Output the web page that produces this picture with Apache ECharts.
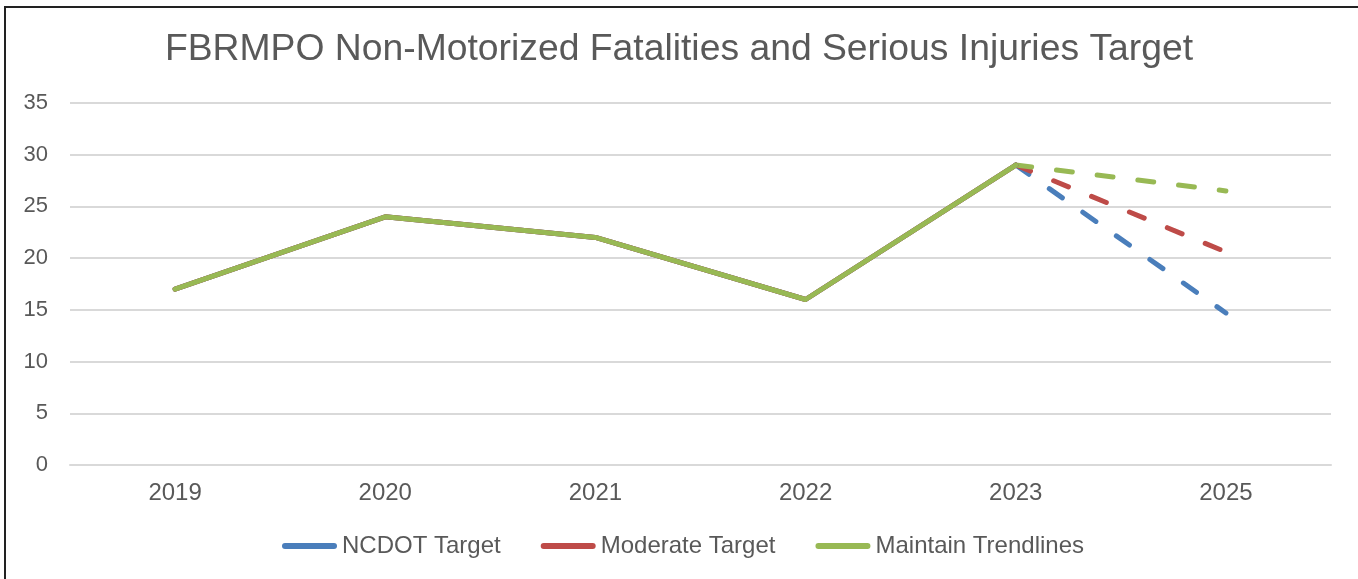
<!DOCTYPE html>
<html>
<head>
<meta charset="utf-8">
<script src="https://cdn.jsdelivr.net/npm/echarts@6/dist/echarts.min.js"></script>
<style>
  html, body { margin: 0; padding: 0; background: #fff; }
  #main { width: 1358px; height: 579px; }
  #frame { position: absolute; left: 4px; top: 6px; width: 1400px; height: 600px;
           border-left: 2px solid #222; border-top: 2px solid #222; pointer-events: none; }
</style>
</head>
<body>
<div id="main"></div>
<div id="frame"></div>
<script>
const categories = ['2019', '2020', '2021', '2022', '2023', '2025'];
const ncdot = [17, 24, 22, 16, 29, 14.7];
const moderate = [17, 24, 22, 16, 29, 20.6];
const maintain = [17, 24, 22, 16, 29, 26.5];

const names = ['NCDOT Target', 'Moderate Target', 'Maintain Trendlines'];
const colors = ['#4A7EBB', '#BE4B48', '#98B954'];
const values = [ncdot, moderate, maintain];

// solid through 2023, dashed for the projected step to 2025
const last = categories.length - 1;
function solidPart(arr) {
  return arr.map((v, i) => (i < last ? v : null));
}
function dashPart(arr) {
  return arr.map((v, i) => (i >= last - 1 ? v : null));
}

const chart = echarts.init(document.getElementById('main'));

const series = [];
values.forEach((arr, k) => {
  series.push({
    name: names[k],
    type: 'line',
    data: dashPart(arr),
    symbol: 'none',
    lineStyle: { color: colors[k], width: 5, type: [16, 25], cap: 'round' },
    itemStyle: { color: colors[k] },
    z: 2
  });
});
values.forEach((arr, k) => {
  series.push({
    name: names[k],
    type: 'line',
    data: solidPart(arr),
    symbol: 'none',
    lineStyle: { color: colors[k], width: 5, cap: 'round', join: 'round' },
    itemStyle: { color: colors[k] },
    z: 3
  });
});

const option = {
  animation: false,
  color: colors,
  title: {
    text: 'FBRMPO Non-Motorized Fatalities and Serious Injuries Target',
    left: 'center',
    top: 26,
    textStyle: { fontFamily: 'Liberation Sans', fontSize: 37.3, fontWeight: 'normal', color: '#595959' }
  },
  legend: {
    data: names,
    top: 529,
    left: 277,
    icon: 'path://M3,0 H52 A3,3 0 0 1 52,6 H3 A3,3 0 0 1 3,0 Z',
    itemWidth: 55,
    itemHeight: 6,
    itemGap: 40,
    textStyle: { fontFamily: 'Liberation Sans', fontSize: 24, color: '#595959' }
  },
  grid: { left: 70, right: 27, top: 103, bottom: 114 },
  xAxis: {
    type: 'category',
    data: categories,
    boundaryGap: true,
    axisLine: { lineStyle: { color: '#d9d9d9', width: 2 } },
    axisTick: { show: false },
    axisLabel: { fontFamily: 'Liberation Sans', fontSize: 24, color: '#595959', margin: 16 }
  },
  yAxis: {
    type: 'value',
    min: 0,
    max: 35,
    interval: 5,
    axisLine: { show: false },
    axisTick: { show: false },
    axisLabel: { fontFamily: 'Liberation Sans', fontSize: 22, color: '#595959', margin: 22 },
    splitLine: { lineStyle: { color: '#d9d9d9', width: 2 } }
  },
  series: series
};

chart.setOption(option);
</script>
</body>
</html>
